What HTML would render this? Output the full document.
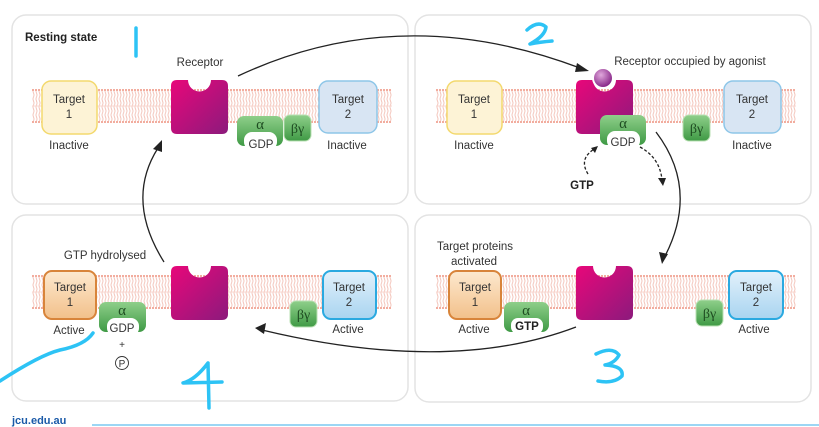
<!DOCTYPE html>
<html><head><meta charset="utf-8"><style>
html,body{margin:0;padding:0;background:#fff;width:819px;height:427px;overflow:hidden}
svg{display:block;font-family:"Liberation Sans",Arial,sans-serif}
</style></head><body>
<svg width="819" height="427" viewBox="0 0 819 427" xmlns="http://www.w3.org/2000/svg">
<defs>
<pattern id="lip" width="3" height="8" patternUnits="userSpaceOnUse">
<rect width="3" height="8" fill="#fff"/><path d="M1.5 0 Q0.5 2 1.5 4 Q2.5 6 1.5 8" stroke="#f3c0b5" stroke-width="0.9" fill="none"/>
</pattern>
<linearGradient id="rec" x1="0" y1="0" x2="1" y2="1"><stop offset="0" stop-color="#e8077a"/><stop offset="1" stop-color="#8c1a7c"/></linearGradient>
<linearGradient id="grn" x1="0" y1="0" x2="0" y2="1"><stop offset="0" stop-color="#8fcf8a"/><stop offset="1" stop-color="#3f9a45"/></linearGradient>
<linearGradient id="org" x1="0" y1="0" x2="0" y2="1"><stop offset="0" stop-color="#fde9cf"/><stop offset="1" stop-color="#f2c08a"/></linearGradient>
<linearGradient id="blu" x1="0" y1="0" x2="0" y2="1"><stop offset="0" stop-color="#e3f1fb"/><stop offset="1" stop-color="#a8d4f0"/></linearGradient>
<radialGradient id="ball" cx="0.4" cy="0.35" r="0.6"><stop offset="0" stop-color="#e0a8dc"/><stop offset="1" stop-color="#8a2a8a"/></radialGradient>
<g id="receptor"><path d="M6 0 L17 0 A11.5 11.5 0 0 0 40 0 L51 0 Q57 0 57 6 L57 48 Q57 54 51 54 L6 54 Q0 54 0 48 L0 6 Q0 0 6 0 Z" fill="url(#rec)"/></g>
<g id="mem"><rect x="0" y="0" width="360" height="34" fill="url(#lip)"/><line x1="0" y1="1" x2="360" y2="1" stroke="#f2ad9f" stroke-width="2" stroke-dasharray="2 1"/><line x1="0" y1="17" x2="360" y2="17" stroke="#f8d6cf" stroke-width="1"/><line x1="0" y1="33" x2="360" y2="33" stroke="#f2ad9f" stroke-width="2" stroke-dasharray="2 1"/></g>
<g id="by"><rect x="0" y="0" width="27" height="26" rx="6" fill="url(#grn)" stroke="#b9e0b3"/><text x="13.5" y="18" font-size="14" text-anchor="middle" fill="#1f4d22" font-family="Liberation Serif,serif">βγ</text></g>
</defs>

<rect x="12" y="15" width="396" height="189" rx="14" fill="#fff" stroke="#e3e3e3" stroke-width="1.5"/>
<rect x="415" y="15" width="396" height="189" rx="14" fill="#fff" stroke="#e3e3e3" stroke-width="1.5"/>
<rect x="12" y="215" width="396" height="186" rx="14" fill="#fff" stroke="#e3e3e3" stroke-width="1.5"/>
<rect x="415" y="215" width="396" height="187" rx="14" fill="#fff" stroke="#e3e3e3" stroke-width="1.5"/>

<use href="#mem" x="32" y="89"/>
<use href="#mem" x="436" y="89"/>
<use href="#mem" x="32" y="275"/>
<use href="#mem" x="436" y="275"/>

<g font-size="11.5" fill="#333" text-anchor="middle">
<text x="25" y="41" font-weight="bold" text-anchor="start" font-size="11.5" fill="#222">Resting state</text>
<text x="200" y="66">Receptor</text>
<rect x="42" y="81" width="55" height="53" rx="9" fill="#fdf3d6" stroke="#f3d96e" stroke-width="1.5"/>
<text x="69" y="103">Target</text><text x="69" y="118">1</text>
<text x="69" y="149">Inactive</text>
<use href="#receptor" x="171" y="80"/>
<rect x="237" y="116" width="46" height="30" rx="7" fill="url(#grn)"/>
<rect x="244" y="132" width="33" height="18" rx="8" fill="#fff"/>
<text x="260" y="129" font-size="15" font-family="Liberation Serif,serif" fill="#1f4d22">α</text>
<text x="261" y="148">GDP</text>
<use href="#by" x="284" y="115"/>
<rect x="319" y="81" width="58" height="52" rx="9" fill="#d8e5f3" stroke="#8ec6e8" stroke-width="1.5"/>
<text x="348" y="103">Target</text><text x="348" y="118">2</text>
<text x="347" y="149">Inactive</text>

<text x="690" y="65">Receptor occupied by agonist</text>
<rect x="447" y="81" width="55" height="53" rx="9" fill="#fdf3d6" stroke="#f3d96e" stroke-width="1.5"/>
<text x="474" y="103">Target</text><text x="474" y="118">1</text>
<text x="474" y="149">Inactive</text>
<use href="#receptor" x="576" y="80"/>
<circle cx="603" cy="78" r="10" fill="url(#ball)" stroke="#fff" stroke-width="2"/>
<rect x="600" y="115" width="46" height="30" rx="7" fill="url(#grn)"/>
<rect x="607" y="131" width="33" height="18" rx="8" fill="#fff"/>
<text x="623" y="128" font-size="15" font-family="Liberation Serif,serif" fill="#1f4d22">α</text>
<text x="623" y="146">GDP</text>
<use href="#by" x="683" y="115"/>
<rect x="724" y="81" width="57" height="52" rx="9" fill="#d8e5f3" stroke="#8ec6e8" stroke-width="1.5"/>
<text x="752" y="103">Target</text><text x="752" y="118">2</text>
<text x="752" y="149">Inactive</text>
<text x="582" y="189" font-weight="bold" fill="#222">GTP</text>

<text x="475" y="250">Target proteins</text>
<text x="474" y="265">activated</text>
<rect x="449" y="271" width="52" height="48" rx="8" fill="url(#org)" stroke="#d8843a" stroke-width="2"/>
<text x="475" y="291">Target</text><text x="475" y="306">1</text>
<text x="474" y="333">Active</text>
<rect x="504" y="302" width="45" height="30" rx="7" fill="url(#grn)"/>
<rect x="511" y="318" width="32" height="16" rx="7" fill="#fff"/>
<text x="526" y="315" font-size="15" font-family="Liberation Serif,serif" fill="#1f4d22">α</text>
<text x="527" y="330" font-weight="bold" fill="#222">GTP</text>
<use href="#receptor" x="576" y="266"/>
<use href="#by" x="696" y="300"/>
<rect x="729" y="271" width="54" height="48" rx="8" fill="url(#blu)" stroke="#2aa9e0" stroke-width="2"/>
<text x="756" y="291">Target</text><text x="756" y="306">2</text>
<text x="754" y="333">Active</text>

<text x="105" y="259">GTP hydrolysed</text>
<rect x="44" y="271" width="52" height="48" rx="8" fill="url(#org)" stroke="#d8843a" stroke-width="2"/>
<text x="70" y="291">Target</text><text x="70" y="306">1</text>
<text x="69" y="334">Active</text>
<rect x="99" y="302" width="47" height="30" rx="7" fill="url(#grn)"/>
<rect x="107" y="318" width="32" height="18" rx="8" fill="#fff"/>
<text x="122" y="315" font-size="15" font-family="Liberation Serif,serif" fill="#1f4d22">α</text>
<text x="122" y="332">GDP</text>
<text x="122" y="348" font-size="10">+</text>
<circle cx="122" cy="363" r="6.5" fill="#fff" stroke="#333" stroke-width="0.9"/>
<text x="122" y="367" font-size="10">P</text>
<use href="#receptor" x="171" y="266"/>
<use href="#by" x="290" y="301"/>
<rect x="323" y="271" width="53" height="48" rx="8" fill="url(#blu)" stroke="#2aa9e0" stroke-width="2"/>
<text x="349" y="291">Target</text><text x="349" y="306">2</text>
<text x="348" y="333">Active</text>
</g>

<g fill="none" stroke="#222" stroke-width="1.3">
<path d="M238 76 Q400 0 580 68"/>
<path d="M656 132 Q700 190 664 258"/>
<path d="M576 327 Q450 375 262 330"/>
<path d="M164 262 Q125 200 158 148"/>
<path d="M588 174 Q578 158 596 148" stroke-dasharray="3 2"/>
<path d="M640 147 Q660 158 662 180" stroke-dasharray="3 2"/>
</g>
<g fill="#222">
<path d="M589 71 L577 63 L575 72 Z"/>
<path d="M662 264 L659 252 L668 254 Z"/>
<path d="M255 328 L266 323 L264 334 Z"/>
<path d="M162 140 L153 149 L162 152 Z"/>
<path d="M598 146 L591 148 L595 153 Z"/>
<path d="M663 186 L658 178 L666 178 Z"/>
</g>

<g fill="none" stroke="#2dc3f5" stroke-width="3.5" stroke-linecap="round" stroke-linejoin="round">
<path d="M136 28 L136 56"/>
<path d="M527 30 Q538 20 546 27 Q545 36 530 44 Q540 42 552 41"/>
<path d="M596 354 Q612 346 619 355 Q615 363 605 365 Q624 366 622 376 Q614 384 598 381"/>
<path d="M208 363 Q195 380 183 383 L222 382 M208 363 L209 408"/>
<path d="M0 381 Q40 355 60 350 Q85 345 93 333"/>
</g>

<text x="12" y="424" font-size="11" font-weight="bold" fill="#1a5aa8" font-family="Liberation Sans,Arial,sans-serif">jcu.edu.au</text>
<line x1="92" y1="425" x2="819" y2="425" stroke="#7cc8f0" stroke-width="1.5"/>
</svg>
</body></html>
